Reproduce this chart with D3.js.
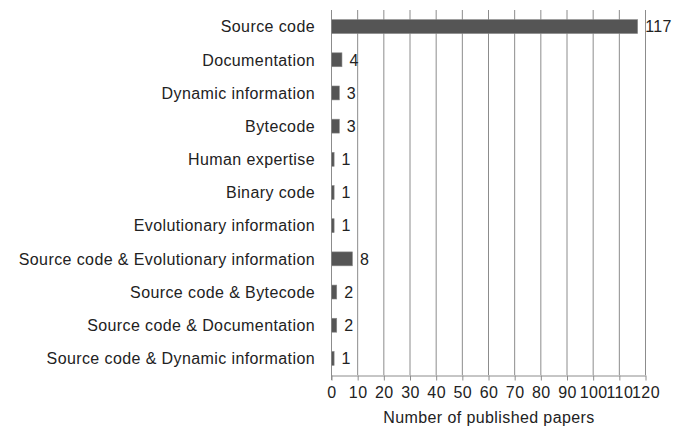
<!DOCTYPE html>
<html>
<head>
<meta charset="UTF-8"/>
<style>
  body { margin: 0; background: #fff; font-family: "Liberation Sans", Arial, sans-serif; }
  svg { display: block; }
  .lbl { font-size: 16px; letter-spacing: 0.4px; fill: #222; }
</style>
</head>
<body>
<svg width="690" height="427"></svg>
<script src="https://d3js.org/d3.v7.min.js"></script>
<script>
const categories = [
  "Source code",
  "Documentation",
  "Dynamic information",
  "Bytecode",
  "Human expertise",
  "Binary code",
  "Evolutionary information",
  "Source code & Evolutionary information",
  "Source code & Bytecode",
  "Source code & Documentation",
  "Source code & Dynamic information"
];
const papers = [117, 4, 3, 3, 1, 1, 1, 8, 2, 2, 1];
const xTicks = [0, 10, 20, 30, 40, 50, 60, 70, 80, 90, 100, 110, 120];

const svg = d3.select('svg');
const plotLeft = 331, plotRight = 645, plotTop = 10, plotBottom = 375;

const x = d3.scaleLinear().domain([0, 120]).range([plotLeft, plotRight]);
const y = d3.scaleBand().domain(categories).range([plotTop, plotBottom]).paddingInner(0.58).paddingOuter(0.29);

// vertical gridlines
svg.append('g')
  .selectAll('line')
  .data(xTicks.slice(1))
  .join('line')
  .attr('x1', d => x(d) + 0.5).attr('x2', d => x(d) + 0.5)
  .attr('y1', plotTop).attr('y2', plotBottom)
  .attr('stroke', '#8c8c8c').attr('stroke-width', 1);

// bottom axis
const xAxis = svg.append('g')
  .attr('transform', `translate(0.5, ${plotBottom + 0.5})`)
  .call(d3.axisBottom(x).tickValues(xTicks).tickSize(5).tickSizeOuter(0).tickPadding(6));
xAxis.select('.domain').attr('stroke', '#8c8c8c');
xAxis.selectAll('.tick line').attr('stroke', '#8c8c8c');
xAxis.selectAll('text').attr('class', 'lbl').attr('font-family', null).attr('font-size', null).attr('fill', null);

// left axis line
svg.append('line')
  .attr('x1', plotLeft + 0.5).attr('x2', plotLeft + 0.5)
  .attr('y1', plotTop).attr('y2', plotBottom + 5)
  .attr('stroke', '#8c8c8c');

// bars
svg.append('g')
  .selectAll('rect')
  .data(categories)
  .join('rect')
  .attr('x', plotLeft + 0.5)
  .attr('y', d => y(d))
  .attr('width', (d, i) => x(papers[i]) - plotLeft)
  .attr('height', y.bandwidth())
  .attr('fill', '#555555')
  .attr('stroke', '#8a8a8a')
  .attr('stroke-width', 0.6);

// value labels
svg.append('g')
  .selectAll('text')
  .data(categories)
  .join('text')
  .attr('class', 'lbl')
  .attr('x', (d, i) => x(papers[i]) + 8)
  .attr('y', d => y(d) + y.bandwidth() / 2)
  .attr('dy', '0.36em')
  .text((d, i) => papers[i]);

// category labels
svg.append('g')
  .selectAll('text')
  .data(categories)
  .join('text')
  .attr('class', 'lbl')
  .attr('x', 315)
  .attr('y', d => y(d) + y.bandwidth() / 2)
  .attr('dy', '0.36em')
  .attr('text-anchor', 'end')
  .text(d => d);

// axis title
svg.append('text')
  .attr('class', 'lbl')
  .attr('x', 489)
  .attr('y', 423)
  .attr('text-anchor', 'middle')
  .text('Number of published papers');
</script>
</body>
</html>
